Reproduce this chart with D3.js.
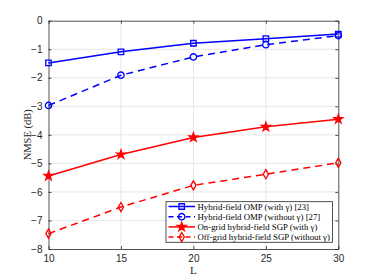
<!DOCTYPE html>
<html>
<head>
<meta charset="utf-8">
<script src="https://cdn.jsdelivr.net/npm/d3@7"></script>
<style>
  body { margin: 0; background: #fff; }
  svg { display: block; }
</style>
</head>
<body>
<div id="plot"></div>
<script>
const L_VALUES = [10, 15, 20, 25, 30];
const OMP_WITH = [-1.48, -1.09, -0.79, -0.63, -0.47];
const OMP_WITHOUT = [-2.97, -1.91, -1.27, -0.84, -0.52];
const SGP_ON = [-5.44, -4.69, -4.09, -3.72, -3.45];
const SGP_OFF = [-7.46, -6.53, -5.77, -5.38, -4.98];
const X_TICKS = [10, 15, 20, 25, 30];
const Y_TICKS = [0, -1, -2, -3, -4, -5, -6, -7, -8];
const LEGEND = [
  'Hybrid-field OMP (with \u03b3) [23]',
  'Hybrid-field OMP (without \u03b3) [27]',
  'On-grid hybrid-field SGP (with \u03b3)',
  'Off-grid hybrid-field SGP (without \u03b3)'
];

var series = [
  { values: OMP_WITH, color: '#0000ff', dash: null, marker: 'square' },
  { values: OMP_WITHOUT, color: '#0000ff', dash: '7,5', marker: 'circle' },
  { values: SGP_ON, color: '#ff0000', dash: null, marker: 'star' },
  { values: SGP_OFF, color: '#ff0000', dash: '7,5', marker: 'diamond' }
];

var W = 374, H = 280;
var margin = { top: 20.7, right: 35.7, bottom: 31, left: 48.5 };
var width = W - margin.left - margin.right;
var height = H - margin.top - margin.bottom;

var svg = d3.select('#plot').append('svg')
  .attr('width', W).attr('height', H);
var g = svg.append('g')
  .attr('transform', 'translate(' + margin.left + ',' + margin.top + ')');

var x = d3.scaleLinear().domain([10, 30]).range([0, width]);
var y = d3.scaleLinear().domain([-8, 0]).range([height, 0]);

// grid
g.append('g').selectAll('line').data(X_TICKS.slice(1, -1)).enter().append('line')
  .attr('x1', function(d) { return x(d); }).attr('x2', function(d) { return x(d); })
  .attr('y1', 0).attr('y2', height)
  .attr('stroke', '#e6e6e6').attr('stroke-width', 1);
g.append('g').selectAll('line').data(Y_TICKS.slice(1, -1)).enter().append('line')
  .attr('y1', function(d) { return y(d); }).attr('y2', function(d) { return y(d); })
  .attr('x1', 0).attr('x2', width)
  .attr('stroke', '#e6e6e6').attr('stroke-width', 1);

// axes
var axisColor = '#262626';
var xAxis = g.append('g').attr('transform', 'translate(0,' + height + ')')
  .call(d3.axisBottom(x).tickValues(X_TICKS).tickSizeInner(-3).tickSizeOuter(0).tickPadding(6));
var yAxis = g.append('g')
  .call(d3.axisLeft(y).tickValues(Y_TICKS).tickSizeInner(-3).tickSizeOuter(0).tickPadding(6));
var xTop = g.append('g')
  .call(d3.axisTop(x).tickValues(X_TICKS).tickSizeInner(-3).tickSizeOuter(0).tickFormat(''));
var yRight = g.append('g').attr('transform', 'translate(' + width + ',0)')
  .call(d3.axisRight(y).tickValues(Y_TICKS).tickSizeInner(-3).tickSizeOuter(0).tickFormat(''));
[xAxis, yAxis, xTop, yRight].forEach(function(a) {
  a.selectAll('path, line').attr('stroke', axisColor).attr('stroke-width', 0.8);
  a.selectAll('text').attr('fill', axisColor)
    .style('font-family', '"Liberation Sans", Arial, sans-serif').style('font-size', '10px');
});

// axis labels
g.append('text')
  .attr('x', width / 2).attr('y', height + 25)
  .attr('text-anchor', 'middle')
  .style('font-family', '"Liberation Serif", "Times New Roman", serif')
  .style('font-size', '11px').attr('fill', axisColor)
  .text('L');
g.append('text')
  .attr('transform', 'translate(-18,' + (height / 2) + ') rotate(-90)')
  .attr('text-anchor', 'middle')
  .style('font-family', '"Liberation Serif", "Times New Roman", serif')
  .style('font-size', '10.5px').attr('fill', axisColor)
  .text('NMSE (dB)');

/* Markers */
var symbolFor = function(name) {
  switch (name) {
    case 'square': return d3.symbol().type(d3.symbolSquare).size(30);
    case 'circle': return d3.symbol().type(d3.symbolCircle).size(32);
    case 'star': return d3.symbol().type(d3.symbolStar).size(24);
    default: return d3.symbol().type(d3.symbolDiamond).size(24);
  }
};

var line = d3.line()
  .x(function(d) { return x(d.l); })
  .y(function(d) { return y(d.v); });

series.forEach(function(s) {
  var pts = L_VALUES.map(function(l, i) { return { l: l, v: s.values[i] }; });
  g.append('path').datum(pts)
    .attr('d', line)
    .attr('fill', 'none')
    .attr('stroke', s.color)
    .attr('stroke-width', 1.5)
    .attr('stroke-dasharray', s.dash);
  g.append('g').selectAll('path').data(pts).enter().append('path')
    .attr('transform', function(d) { return 'translate(' + x(d.l) + ',' + y(d.v) + ')'; })
    .attr('d', symbolFor(s.marker))
    .attr('fill', s.marker === 'star' ? s.color : 'none')
    .attr('stroke', s.color)
    .attr('stroke-width', 1.3);
});

/* Legend */
var lg = svg.append('g').attr('transform', 'translate(166,201.7)');
lg.append('rect')
  .attr('width', 166.5).attr('height', 40.6)
  .attr('fill', '#fff').attr('stroke', axisColor).attr('stroke-width', 0.8);
series.forEach(function(s, i) {
  var yy = 4.8 + i * 10.2;
  lg.append('line')
    .attr('x1', 2.5).attr('x2', 29).attr('y1', yy).attr('y2', yy)
    .attr('stroke', s.color).attr('stroke-width', 1.5)
    .attr('stroke-dasharray', s.dash ? '5,3.5' : null);
  lg.append('path')
    .attr('transform', 'translate(15.7,' + yy + ')')
    .attr('d', symbolFor(s.marker))
    .attr('fill', s.marker === 'star' ? s.color : 'none')
    .attr('stroke', s.color).attr('stroke-width', 1.3);
  lg.append('text')
    .attr('x', 31.5).attr('y', yy + 3)
    .style('font-family', '"Liberation Serif", "Times New Roman", serif')
    .style('font-size', '8.8px').attr('fill', '#000')
    .text(LEGEND[i]);
});
</script>
</body>
</html>
